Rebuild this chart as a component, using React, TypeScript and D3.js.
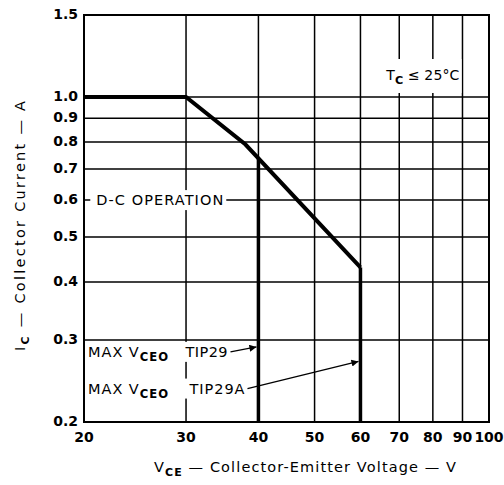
import React, { useEffect, useRef } from "react";
import * as d3 from "d3";

// ---- data ----
const xTickValues = [20, 30, 40, 50, 60, 70, 80, 90, 100];
const xTickLabels = ["20", "30", "40", "50", "60", "70", "80", "90", "100"];
const yTickValues = [0.2, 0.3, 0.4, 0.5, 0.6, 0.7, 0.8, 0.9, 1.0, 1.5];
const yTickLabels = ["0.2", "0.3", "0.4", "0.5", "0.6", "0.7", "0.8", "0.9", "1.0", "1.5"];
const xGrid = [30, 40, 50, 60, 70, 80, 90];
const yGrid = [0.3, 0.4, 0.5, 0.6, 0.7, 0.8, 0.9, 1.0];
const dcVce = [20, 30, 38, 60];
const dcIc = [1.0, 1.0, 0.79, 0.43];
const vceoLimits = [40, 60];
const vceoNames = ["TIP29", "TIP29A"];
const arrowFromV = [35.8, 38.3];
const arrowFromI = [0.283, 0.236];
const arrowToI = [0.29, 0.27];

const W = 504;
const H = 485;
const FONT = "'DejaVu Sans', sans-serif";

function icAt(v: number): number {
  for (let k = 0; k < dcVce.length - 1; k++) {
    if (v >= dcVce[k] && v <= dcVce[k + 1]) {
      const t = Math.log(v / dcVce[k]) / Math.log(dcVce[k + 1] / dcVce[k]);
      return Math.exp(Math.log(dcIc[k]) + t * (Math.log(dcIc[k + 1]) - Math.log(dcIc[k])));
    }
  }
  return dcIc[dcIc.length - 1];
}

export default function App() {
  const ref = useRef<SVGSVGElement>(null);

  useEffect(() => {
    const svg = d3.select(ref.current);
    svg.selectAll("*").remove();

    const x = d3.scaleLog().domain([20, 100]).range([84, 489]);
    const y = d3.scaleLog().domain([0.2, 1.5]).range([422, 15]);
    const [x0, x1] = x.range();
    const [y0, y1] = y.range();

    const defs = svg.append("defs");
    defs
      .append("marker")
      .attr("id", "arr")
      .attr("viewBox", "0 0 10 10")
      .attr("refX", 10)
      .attr("refY", 5)
      .attr("markerWidth", 9)
      .attr("markerHeight", 7)
      .attr("markerUnits", "userSpaceOnUse")
      .attr("orient", "auto")
      .append("path")
      .attr("d", "M0,0 L10,5 L0,10 Z")
      .attr("fill", "#000");

    const g = svg.append("g");

    // grid
    g.selectAll("line.gx")
      .data(xGrid)
      .join("line")
      .attr("x1", (d) => x(d))
      .attr("x2", (d) => x(d))
      .attr("y1", y1)
      .attr("y2", y0)
      .attr("stroke", "#000")
      .attr("stroke-width", 1.5);
    g.selectAll("line.gy")
      .data(yGrid)
      .join("line")
      .attr("x1", x0)
      .attr("x2", x1)
      .attr("y1", (d) => y(d))
      .attr("y2", (d) => y(d))
      .attr("stroke", "#000")
      .attr("stroke-width", 1.5);

    // labelled text with white background
    const labelLayer = svg.append("g");
    function addLabel(
      px: number,
      py: number,
      anchor: string,
      parts: { t: string; sub?: boolean }[],
      size: number,
      pad: number[],
      len?: number
    ) {
      const bg = labelLayer.append("rect").attr("fill", "#fff");
      const t = labelLayer
        .append("text")
        .attr("x", px)
        .attr("y", py)
        .attr("text-anchor", anchor)
        .attr("font-family", FONT)
        .attr("font-size", size)
        .attr("fill", "#000");
      if (len) t.attr("textLength", len).attr("lengthAdjust", "spacing");
      let shifted = false;
      parts.forEach((p) => {
        const ts = t.append("tspan").text(p.t);
        if (p.sub && !shifted) {
          ts.attr("dy", 4).attr("font-size", size * 0.8).attr("font-weight", "bold");
          shifted = true;
        } else if (!p.sub && shifted) {
          ts.attr("dy", -4);
          shifted = false;
        }
      });
      const bb = (t.node() as SVGTextElement).getBBox();
      bg.attr("x", bb.x - pad[0])
        .attr("y", bb.y - pad[1])
        .attr("width", bb.width + pad[0] + pad[2])
        .attr("height", bb.height + pad[1] + pad[3]);
      return t;
    }

    addLabel(x(21), y(0.6) + 5, "start", [{ t: "D-C OPERATION" }], 14.5, [6, 2, 3, 2], 127);
    addLabel(x(66.5), y(1.12) + 6, "start", [{ t: "T" }, { t: "C", sub: true }, { t: " ≤ 25°C" }], 14, [2, 8, 2, 6], 73);

    vceoNames.forEach((name, k) => {
      const ax = x(arrowFromV[k]);
      const ay = y(arrowFromI[k]);
      addLabel(ax - 3, ay + 5, "end", [{ t: name }], 14.5, [8, 2, 2, 2], k === 0 ? 42 : 55);
      addLabel(x(20) + 4, ay + 5, "start", [{ t: "MAX V" }, { t: "CEO", sub: true }], 14.5, [1, 1, 1, 1], 80);
      svg
        .append("line")
        .attr("x1", ax)
        .attr("y1", ay)
        .attr("x2", x(vceoLimits[k]) - 2)
        .attr("y2", y(arrowToI[k]))
        .attr("stroke", "#000")
        .attr("stroke-width", 1.3)
        .attr("marker-end", "url(#arr)");
    });

    // D-C boundary
    const pts = dcVce.map((v, k) => [v, dcIc[k]] as [number, number]);
    svg
      .append("path")
      .attr(
        "d",
        d3
          .line<[number, number]>()
          .x((d) => x(d[0]))
          .y((d) => y(d[1]))(pts)
      )
      .attr("fill", "none")
      .attr("stroke", "#000")
      .attr("stroke-width", 4)
      .attr("stroke-linejoin", "miter");

    // VCEO limits
    svg
      .selectAll("line.vl")
      .data(vceoLimits)
      .join("line")
      .attr("x1", (d) => x(d))
      .attr("x2", (d) => x(d))
      .attr("y1", (d) => y(icAt(d)))
      .attr("y2", y0)
      .attr("stroke", "#000")
      .attr("stroke-width", 3.5);

    // frame
    svg
      .append("rect")
      .attr("x", x0)
      .attr("y", y1)
      .attr("width", x1 - x0)
      .attr("height", y0 - y1)
      .attr("fill", "none")
      .attr("stroke", "#000")
      .attr("stroke-width", 2);

    // tick labels
    svg
      .selectAll("text.xt")
      .data(xTickValues)
      .join("text")
      .attr("x", (d) => x(d))
      .attr("y", y0 + 20)
      .attr("text-anchor", "middle")
      .attr("font-family", FONT)
      .attr("font-size", 14)
      .attr("font-weight", "bold")
      .text((d, k) => xTickLabels[k]);
    svg
      .selectAll("text.yt")
      .data(yTickValues)
      .join("text")
      .attr("x", x0 - 6)
      .attr("y", (d) => y(d) + 4)
      .attr("text-anchor", "end")
      .attr("font-family", FONT)
      .attr("font-size", 14)
      .attr("font-weight", "bold")
      .text((d, k) => yTickLabels[k]);

    // axis titles
    const xt = svg
      .append("text")
      .attr("x", 305)
      .attr("y", 472)
      .attr("text-anchor", "middle")
      .attr("font-family", FONT)
      .attr("font-size", 14.5)
      .attr("textLength", 302)
      .attr("lengthAdjust", "spacing")
      .attr("fill", "#000");
    xt.append("tspan").text("V");
    xt.append("tspan").text("CE").attr("dy", 4).attr("font-size", 11).attr("font-weight", "bold");
    xt.append("tspan").text(" — Collector-Emitter Voltage — V").attr("dy", -4);

    const yt = svg
      .append("text")
      .attr("transform", `translate(25,226) rotate(-90)`)
      .attr("text-anchor", "middle")
      .attr("font-family", FONT)
      .attr("font-size", 14.5)
      .attr("textLength", 250)
      .attr("lengthAdjust", "spacing")
      .attr("fill", "#000");
    yt.append("tspan").text("I");
    yt.append("tspan").text("C").attr("dy", 4).attr("font-size", 11).attr("font-weight", "bold");
    yt.append("tspan").text(" — Collector Current — A").attr("dy", -4);
  }, []);

  return <svg ref={ref} width={W} height={H} style={{ display: "block", position: "absolute", left: 0, top: 0 }} />;
}
